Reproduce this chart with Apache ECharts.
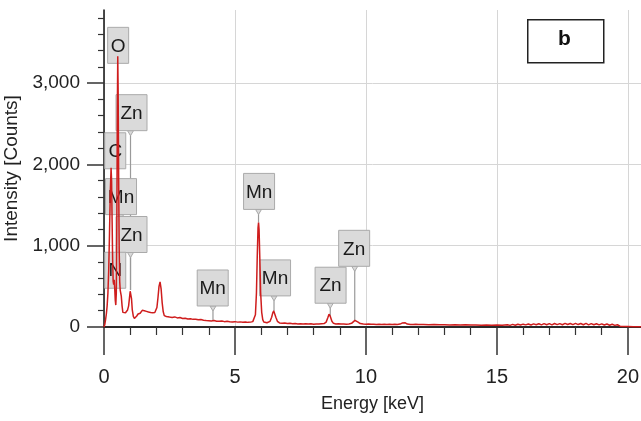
<!DOCTYPE html>
<html>
<head>
<meta charset="utf-8">
<script src="https://cdn.jsdelivr.net/npm/echarts@6/dist/echarts.min.js"></script>
<style>
  html, body { margin: 0; padding: 0; background: #fff; }
  #chart { width: 641px; height: 421px; }
</style>
</head>
<body>
<div id="chart"></div>
<script>
// EDS spectrum: energy (keV) and intensity (counts)
const energy = [
  0.00,0.03,0.06,0.09,0.12,0.15,0.18,0.21,0.24,0.27,0.29,0.31,0.33,0.35,0.37,0.39,0.41,0.43,0.45,0.47,
  0.49,0.51,0.525,0.54,0.56,0.58,0.60,0.62,0.64,0.66,0.69,0.72,0.75,0.78,0.82,0.86,0.90,0.94,0.97,1.00,
  1.02,1.05,1.08,1.12,1.16,1.20,1.25,1.30,1.34,1.38,1.42,1.46,1.50,1.54,1.58,1.62,1.66,1.70,1.74,1.78,
  1.82,1.86,1.90,1.94,1.98,2.02,2.06,2.10,2.14,2.18,2.22,2.26,2.30,2.34,2.38,
  2.45,2.50,2.60,2.70,2.80,2.90,3.00,3.10,3.20,3.30,3.40,3.50,3.60,3.70,3.80,3.90,4.00,4.10,4.20,4.30,
  4.40,4.50,4.60,4.70,4.80,4.90,5.00,5.10,5.20,5.30,5.40,5.50,5.60,5.68,5.74,
  5.78,5.82,5.85,5.88,5.90,5.92,5.95,5.98,6.02,6.06,6.10,6.16,6.22,6.28,6.34,6.40,6.44,6.48,6.52,6.56,
  6.62,6.70,6.80,6.90,7.00,7.10,7.20,7.30,7.40,7.50,7.60,7.70,7.80,7.90,8.00,8.10,8.20,8.30,8.40,8.48,
  8.54,8.59,8.64,8.70,8.76,8.85,8.95,9.05,9.15,9.25,9.35,9.45,9.52,9.58,9.64,9.70,9.78,9.90,10.00,10.10,
  10.20,10.30,10.40,10.50,10.60,10.70,10.80,10.90,11.00,11.10,11.20,11.30,11.38,11.44,11.50,11.58,11.70,11.80,11.90,12.00,
  12.20,12.40,12.60,12.80,13.00,13.20,13.40,13.60,13.80,14.00,14.20,14.40,14.60,14.80,15.00,15.20,15.40,15.50,15.60,15.70,
  15.80,15.90,16.00,16.10,16.20,16.30,16.40,16.50,16.60,16.70,16.80,16.90,17.00,17.10,17.20,17.30,17.40,17.50,17.60,17.70,
  17.80,17.90,18.00,18.10,18.20,18.30,18.40,18.50,18.60,18.70,18.80,18.90,19.00,19.10,19.20,19.30,19.40,19.50,19.60,19.70,
  19.80,20.00,20.20,20.50
];
const counts = [
  0,30,90,160,260,420,700,1150,1650,1960,1800,1300,820,560,520,580,470,330,270,420,
  1300,2700,3330,2900,1800,950,560,450,470,380,260,180,165,170,175,190,210,260,350,440,
  455,350,210,130,105,110,135,160,175,170,185,205,228,200,185,192,178,184,172,178,
  168,175,170,178,190,240,360,500,555,470,300,190,140,125,130,
  128,122,118,124,112,116,104,108,98,102,94,96,88,92,84,80,78,74,80,72,
  70,74,66,70,64,62,66,60,63,58,62,57,60,66,80,
  150,420,860,1220,1285,1200,820,420,180,90,62,55,52,56,70,120,170,198,175,120,
  70,50,46,48,42,45,40,43,38,41,37,40,36,39,35,38,36,40,42,60,
  110,157,130,70,45,38,40,36,38,35,38,45,65,82,80,60,42,36,34,36,
  33,35,32,34,31,33,30,33,31,34,32,36,48,60,52,36,32,30,33,30,
  31,28,30,27,29,26,28,25,27,24,26,23,25,22,26,22,28,20,32,22,
  34,24,35,26,37,25,38,27,40,26,41,28,42,27,43,29,42,28,44,30,
  43,29,45,30,43,28,44,27,42,28,40,26,39,24,37,22,34,20,28,10,
  6,5,4,4
];

// Identified lines: element and line energy (keV)
const peakNames    = ['O', 'Zn', 'C', 'Mn', 'Zn', 'N', 'Mn', 'Mn', 'Mn', 'Zn', 'Zn'];
const peakEnergies = [0.525, 1.012, 0.277, 0.637, 1.012, 0.392, 4.16, 5.899, 6.49, 8.638, 9.572];

// Tick values
const xMajorTicks = [0, 5, 10, 15, 20];
const xMinorTicks = [1, 2, 3, 4, 6, 7, 8, 9, 11, 12, 13, 14, 16, 17, 18, 19];
const yMajorTicks = [0, 1000, 2000, 3000];
const yMinorTicks = [200, 400, 600, 800, 1200, 1400, 1600, 1800, 2200, 2400, 2600, 2800, 3200, 3400, 3600, 3800];

// Callout placement: box centre [keV, counts]
const calloutBox = [
  [0.54, 3465], [1.05, 2637], [0.43, 2168], [0.65, 1604], [1.05, 1138], [0.43, 698],
  [4.15, 480], [5.92, 1668], [6.53, 604], [8.65, 514], [9.55, 968]
];

function countsAt(e) {
  let best = 0, bd = Infinity;
  for (let i = 0; i < energy.length; i++) {
    const d = Math.abs(energy[i] - e);
    if (d < bd) { bd = d; best = i; }
  }
  return counts[best];
}

const spectrum = energy.map((e, i) => [e, counts[i]]);
const calloutData = peakEnergies.map((e, i) => [e, countsAt(e), calloutBox[i][0], calloutBox[i][1]]);

const FONT = '"Liberation Sans Narrow", "Arial Narrow", "Liberation Sans", Arial, sans-serif';

const chart = echarts.init(document.getElementById('chart'), null, { renderer: 'canvas' });

chart.setOption({
  animation: false,
  backgroundColor: '#ffffff',
  grid: { left: 104, right: 0, top: 10, bottom: 94, containLabel: false, outerBoundsMode: 'none' },
  xAxis: [
    {
      type: 'value', min: 0, max: 20.5, interval: 5, position: 'bottom',
      name: 'Energy [keV]', nameLocation: 'middle', nameGap: 68,
      nameTextStyle: { fontFamily: FONT, fontSize: 18, color: '#222' },
      axisLine: { show: true, onZero: false, lineStyle: { color: '#111', width: 1.5 } },
      axisTick: { show: true, length: 28, customValues: xMajorTicks, lineStyle: { color: '#333', width: 1.5 } },
      axisLabel: { customValues: xMajorTicks, margin: 40, fontFamily: FONT, fontSize: 20, color: '#222' },
      splitLine: { show: true, lineStyle: { color: '#d6d6d6', width: 1 } }
    },
    {
      type: 'value', min: 0, max: 20.5, position: 'bottom',
      axisLine: { show: false },
      axisTick: { show: true, length: 8, customValues: xMinorTicks, lineStyle: { color: '#333', width: 1.2 } },
      axisLabel: { show: false },
      splitLine: { show: false }
    },
    {
      type: 'value', min: 0, max: 20.5, position: 'top',
      axisLine: { show: true, lineStyle: { color: '#222', width: 1.5 } },
      axisTick: { show: false }, axisLabel: { show: false }, splitLine: { show: false }
    }
  ],
  yAxis: [
    {
      type: 'value', min: 0, max: 3900, interval: 1000, position: 'left',
      name: 'Intensity [Counts]', nameLocation: 'middle', nameGap: 79, nameRotate: 90,
      nameTextStyle: { fontFamily: '"Liberation Sans", Arial, sans-serif', fontSize: 19, color: '#222' },
      axisLine: { show: true, onZero: false, lineStyle: { color: '#111', width: 1.5 } },
      axisTick: { show: true, length: 17, customValues: yMajorTicks, lineStyle: { color: '#333', width: 1.5 } },
      axisLabel: {
        customValues: yMajorTicks, margin: 24, fontFamily: FONT, fontSize: 19, color: '#222',
        formatter: v => v.toLocaleString('en-US')
      },
      splitLine: { show: true, lineStyle: { color: '#d6d6d6', width: 1 } }
    },
    {
      type: 'value', min: 0, max: 3900, position: 'left',
      axisLine: { show: false },
      axisTick: { show: true, length: 6, customValues: yMinorTicks, lineStyle: { color: '#333', width: 1.2 } },
      axisLabel: { show: false },
      splitLine: { show: false }
    }
  ],
  series: [
    {
      type: 'custom',
      xAxisIndex: 0, yAxisIndex: 0,
      z: 2,
      clip: false,
      data: calloutData,
      renderItem: function (params, api) {
        const i = params.dataIndex;
        const name = peakNames[i];
        const tip = api.coord([api.value(0), api.value(1)]);
        const c = api.coord([api.value(2), api.value(3)]);
        const w = name.length > 1 ? 31 : 21;
        const h = 36;
        const bottom = c[1] + h / 2;
        const px = tip[0];
        const children = [];
        if (tip[1] > bottom + 2) {
          children.push({
            type: 'line',
            shape: { x1: px, y1: bottom, x2: px, y2: tip[1] },
            style: { stroke: '#9a9a9a', lineWidth: 1.2 }
          });
          children.push({
            type: 'polygon',
            shape: { points: [[px - 3, bottom], [px + 3, bottom], [px, bottom + 5]] },
            style: { fill: '#dadada', stroke: '#aaaaaa', lineWidth: 1 }
          });
        }
        children.push({
          type: 'rect',
          shape: { x: c[0] - w / 2, y: c[1] - h / 2, width: w, height: h },
          style: { fill: '#dadada', stroke: '#aaaaaa', lineWidth: 1 }
        });
        children.push({
          type: 'text',
          style: {
            text: name, x: c[0], y: c[1] + 1, align: 'center', verticalAlign: 'middle',
            font: '19px ' + FONT, fill: '#1a1a1a'
          }
        });
        return { type: 'group', children: children };
      }
    },
    {
      type: 'line',
      xAxisIndex: 0, yAxisIndex: 0,
      z: 5,
      data: spectrum,
      showSymbol: false,
      lineStyle: { color: '#cf1d1d', width: 1.5 },
      itemStyle: { color: '#cf1d1d' }
    }
  ],
  graphic: [
    {
      type: 'rect', left: 530, top: 22, z: 10,
      shape: { width: 76, height: 43 },
      style: { fill: '#bbbbbb' }
    },
    {
      type: 'rect', left: 527, top: 19, z: 11,
      shape: { width: 76, height: 43 },
      style: { fill: '#ffffff', stroke: '#222', lineWidth: 1.5 }
    },
    {
      type: 'text', left: 558, top: 29, z: 12,
      style: { text: 'b', font: 'bold 21px "Liberation Sans", Arial, sans-serif', fill: '#111' }
    }
  ]
});

// Low-energy region-of-interest bracket along the baseline
const p0 = chart.convertToPixel({ gridIndex: 0 }, [0.33, 0]);
const p1 = chart.convertToPixel({ gridIndex: 0 }, [1.43, 40]);
chart.setOption({
  graphic: [
    {
      type: 'rect', z: 3,
      shape: { x: p0[0], y: p1[1], width: p1[0] - p0[0], height: p0[1] - p1[1] },
      style: { fill: 'rgba(0,0,0,0)', stroke: '#a8a8a8', lineWidth: 1.2 }
    }
  ]
});
</script>
</body>
</html>
